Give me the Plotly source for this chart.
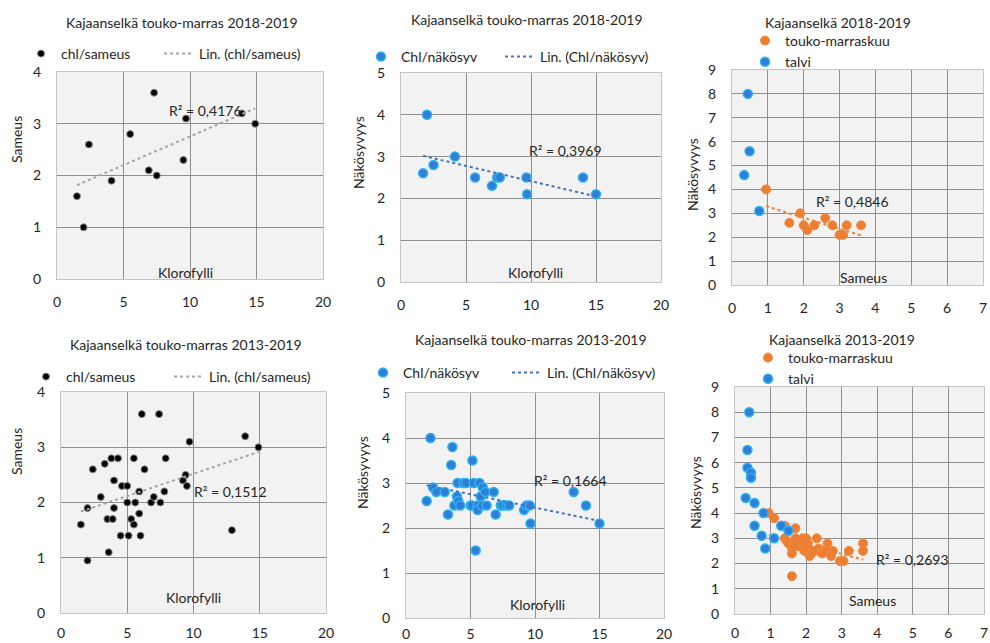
import numpy as np
import plotly.graph_objects as go

W, H = 990, 643
def X(px): return px / W
def Y(py): return 1 - py / H

FONT = "Lato"
TXT = "#262626"

# ---------------- data ----------------
# Panel 1: 2018-2019 chl / sameus
chl_a = [1.5, 2.0, 2.4, 4.1, 5.5, 6.9, 7.3, 7.5, 9.5, 9.7, 13.9, 14.9]
sam_a = [1.6, 1.0, 2.6, 1.9, 2.8, 2.1, 3.6, 2.0, 2.3, 3.1, 3.2, 3.0]
# Panel 2: 2018-2019 chl / näkösyvyys
chl_b = [1.7, 2.0, 2.5, 4.15, 5.7, 7.0, 7.4, 7.6, 9.65, 9.7, 14.0, 15.0]
nak_b = [2.6, 4.0, 2.8, 3.0, 2.5, 2.3, 2.5, 2.5, 2.5, 2.1, 2.5, 2.1]
# Panel 3: 2018-2019 sameus / näkösyvyys
sam_c_kesa = [0.95, 1.6, 1.9, 2.0, 2.1, 2.3, 2.6, 2.8, 3.0, 3.1, 3.2, 3.6]
nak_c_kesa = [4.0, 2.6, 3.0, 2.5, 2.3, 2.5, 2.8, 2.5, 2.1, 2.1, 2.5, 2.5]
sam_c_talvi = [0.44, 0.49, 0.34, 0.76]
nak_c_talvi = [8.0, 5.6, 4.6, 3.1]
# Panel 4: 2013-2019 chl / sameus
chl_d = [1.5, 2.0, 2.0, 2.4, 3.0, 3.3, 3.5, 3.6, 3.8, 3.9, 4.0, 4.0, 4.3, 4.5,
         4.6, 5.0, 5.0, 5.1, 5.3, 5.5, 5.5, 5.6, 5.9, 5.9, 6.0, 6.1, 6.3, 6.8,
         7.0, 7.4, 7.5, 7.8, 7.9, 9.2, 9.4, 9.5, 9.7, 12.9, 13.9, 14.9]
sam_d = [1.6, 1.9, 0.95, 2.6, 2.1, 2.7, 1.7, 1.1, 2.8, 1.7, 2.4, 1.9, 2.8, 1.4,
         2.3, 2.3, 2.0, 1.4, 1.7, 1.6, 2.8, 2.0, 2.2, 1.8, 1.4, 3.6, 2.6, 2.0,
         2.1, 3.6, 2.0, 2.2, 2.8, 2.4, 2.5, 2.3, 3.1, 1.5, 3.2, 3.0]
# Panel 5: 2013-2019 chl / näkösyvyys
chl_e = [1.6, 1.9, 2.1, 2.35, 3.0, 3.25, 3.5, 3.6, 3.75, 3.95, 4.0, 4.05, 4.2,
         4.45, 4.65, 5.0, 5.1, 5.15, 5.25, 5.4, 5.55, 5.55, 5.7, 5.8, 5.9, 5.95,
         6.15, 6.25, 6.8, 6.95, 7.35, 7.5, 7.8, 8.0, 9.15, 9.35, 9.6, 9.65,
         13.0, 13.95, 15.0]
nak_e = [2.6, 4.0, 2.9, 2.8, 2.8, 2.3, 3.4, 3.8, 2.5, 2.7, 3.0, 2.6, 2.5,
         3.0, 3.0, 2.5, 2.5, 3.5, 3.0, 1.5, 2.5, 2.4, 3.0, 2.7, 2.5, 2.9,
         2.8, 2.5, 2.8, 2.3, 2.5, 2.5, 2.5, 2.5, 2.4, 2.5, 2.5, 2.1,
         2.8, 2.5, 2.1]
# Panel 6: 2013-2019 sameus / näkösyvyys
sam_f_kesa = [0.95, 1.1, 1.4, 1.4, 1.45, 1.7, 1.7, 1.6, 1.6, 1.6, 1.75, 1.9,
              2.0, 1.95, 2.05, 2.1, 2.25, 2.3, 2.4, 2.35, 2.5, 2.6, 2.7, 2.75,
              2.95, 3.05, 3.2, 3.6, 3.6, 1.5, 1.8, 2.0, 2.15, 2.45, 2.55, 1.65,
              2.2, 1.85]
nak_f_kesa = [4.0, 3.8, 3.5, 3.0, 2.9, 3.4, 3.0, 2.4, 1.5, 2.6, 2.7, 3.0,
              3.0, 2.5, 2.8, 2.3, 2.5, 3.0, 2.5, 2.6, 2.5, 2.8, 2.3, 2.5,
              2.1, 2.1, 2.5, 2.8, 2.5, 2.8, 2.7, 2.6, 2.4, 2.4, 2.5, 2.7,
              2.5, 2.9]
sam_f_talvi = [0.4, 0.35, 0.35, 0.45, 0.45, 0.3, 0.55, 0.8, 0.55, 0.75, 0.85,
               1.1, 1.3, 1.5]
nak_f_talvi = [8.0, 6.5, 5.8, 5.6, 5.4, 4.6, 4.4, 4.0, 3.5, 3.1, 2.6, 3.0,
               3.5, 3.3]

titles = ["Kajaanselkä touko-marras 2018-2019", "Kajaanselkä touko-marras 2018-2019",
          "Kajaanselkä 2018-2019", "Kajaanselkä touko-marras 2013-2019",
          "Kajaanselkä touko-marras 2013-2019", "Kajaanselkä 2013-2019"]
r2_labels = ["R² = 0,4176", "R² = 0,3969", "R² = 0,4846",
             "R² = 0,1512", "R² = 0,1664", "R² = 0,2693"]
x_titles = ["Klorofylli", "Klorofylli", "Sameus", "Klorofylli", "Klorofylli", "Sameus"]
y_titles = ["Sameus", "Näkösyvyys", "Näkösyvyys", "Sameus", "Näkösyvyys", "Näkösyvyys"]

# ---------------- layout geometry (pixels) ----------------
panels = [
    dict(box=(57, 323, 72, 279), xr=[0, 20], xd=5, yr=[0, 4], so=10),
    dict(box=(401, 661, 73, 282), xr=[0, 20], xd=5, yr=[0, 5], so=10),
    dict(box=(732, 983, 70, 285), xr=[0, 7], xd=1, yr=[0, 9], so=10),
    dict(box=(61, 326, 392, 613), xr=[0, 20], xd=5, yr=[0, 4], so=7),
    dict(box=(406, 664, 393, 618), xr=[0, 20], xd=5, yr=[0, 5], so=3),
    dict(box=(735, 984, 387, 614), xr=[0, 7], xd=1, yr=[0, 9], so=6),
]
title_pos = [(182, 22), (527, 20), (838, 22), (186, 344), (531, 340), (842, 340)]
r2_pos = [(205, 110), (565, 150), (852, 202), (230, 491), (570, 480), (912, 559)]
xt_pos = [(185, 272), (535, 272), (863, 277), (193, 597), (537, 604), (872, 600)]
yt_pos = [(17, 140), (358, 153), (692, 175), (17, 452), (362, 473), (695, 493)]

fig = go.Figure()

BLACK = dict(color="black", size=7, line=dict(color="#8a8a8a", width=1))
BLUE = dict(color="#2f7fd8", size=9, line=dict(color="#2bb3f0", width=1.5))
ORANGE = dict(color="#ed7d31", size=9, line=dict(color="#f08a40", width=1))

def ax(i):
    return ("x" if i == 1 else f"x{i}"), ("y" if i == 1 else f"y{i}")

def leg(i):
    return "legend" if i == 1 else f"legend{i}"

def trend(xs, ys):
    k, b = np.polyfit(xs, ys, 1)
    x0, x1 = min(xs), max(xs)
    return [x0, x1], [k * x0 + b, k * x1 + b]

def add_pair(i, xs, ys, mk, name, tcolor, tname, tleg):
    xa, ya = ax(i)
    fig.add_trace(go.Scatter(x=xs, y=ys, mode="markers", marker=mk, name=name,
                             xaxis=xa, yaxis=ya, legend=leg(i)))
    tx, ty = trend(xs, ys)
    fig.add_trace(go.Scatter(x=tx, y=ty, mode="lines", name=tname,
                             line=dict(color=tcolor, dash="dot", width=2),
                             xaxis=xa, yaxis=ya, legend=tleg))

add_pair(1, chl_a, sam_a, BLACK, "chl/sameus", "#a5a5a5", "Lin. (chl/sameus)", "legend7")
add_pair(2, chl_b, nak_b, BLUE, "Chl/näkösyv", "#4472c4", "Lin. (Chl/näkösyv)", "legend8")
add_pair(4, chl_d, sam_d, BLACK, "chl/sameus", "#a5a5a5", "Lin. (chl/sameus)", "legend9")
add_pair(5, chl_e, nak_e, BLUE, "Chl/näkösyv", "#4472c4", "Lin. (Chl/näkösyv)", "legend10")

for i, (sk, nk, st, nt) in [(3, (sam_c_kesa, nak_c_kesa, sam_c_talvi, nak_c_talvi)),
                            (6, (sam_f_kesa, nak_f_kesa, sam_f_talvi, nak_f_talvi))]:
    xa, ya = ax(i)
    tx, ty = trend(sk, nk)
    fig.add_trace(go.Scatter(x=tx, y=ty, mode="lines", showlegend=False,
                             line=dict(color="#ed7d31", dash="dot", width=2),
                             xaxis=xa, yaxis=ya))
    fig.add_trace(go.Scatter(x=sk, y=nk, mode="markers", marker=ORANGE,
                             name="touko-marraskuu", xaxis=xa, yaxis=ya, legend=leg(i)))
    fig.add_trace(go.Scatter(x=st, y=nt, mode="markers", marker=BLUE,
                             name="talvi", xaxis=xa, yaxis=ya, legend=leg(i)))

layout = dict(
    width=W, height=H, margin=dict(l=0, r=0, t=0, b=0, autoexpand=False),
    paper_bgcolor="white", plot_bgcolor="#f2f2f2",
    font=dict(family=FONT, size=14, color=TXT),
    annotations=[],
)

for n, p in enumerate(panels):
    i = n + 1
    l, r, t, b = p["box"]
    common = dict(showgrid=True, gridcolor="#8f8f8f", gridwidth=1,
                  showline=True, linecolor="#c4c4c4", linewidth=1, mirror=True,
                  zeroline=False, ticks="", fixedrange=True, automargin=False,
                  ticklabeloverflow="allow",
                  tickfont=dict(family=FONT, size=14, color=TXT))
    layout["xaxis" if i == 1 else f"xaxis{i}"] = dict(
        common, domain=[X(l), X(r)], range=p["xr"], dtick=p["xd"], tick0=0,
        anchor=ax(i)[1], ticklabelstandoff=p["so"])
    layout["yaxis" if i == 1 else f"yaxis{i}"] = dict(
        common, domain=[Y(b), Y(t)], range=p["yr"], dtick=1, tick0=0,
        anchor=ax(i)[0], ticklabelstandoff=12)
    def ann(text, pos, size, angle=0):
        return dict(text=text, x=X(pos[0]), y=Y(pos[1]), xref="paper", yref="paper",
                    xanchor="center", yanchor="middle", showarrow=False,
                    textangle=angle, font=dict(size=size, color=TXT))
    layout["annotations"] += [
        ann(titles[n], title_pos[n], 14),
        ann(r2_labels[n], r2_pos[n], 14),
        ann(x_titles[n], xt_pos[n], 14),
        ann(y_titles[n], yt_pos[n], 14, -90),
    ]

def hleg(x, y):
    return dict(x=X(x), y=Y(y), xref="container", yref="container",
                xanchor="left", yanchor="middle", orientation="h",
                bgcolor="rgba(0,0,0,0)", borderwidth=0,
                font=dict(family=FONT, size=14, color=TXT))

def vleg(x, y):
    return dict(x=X(x), y=Y(y), xref="container", yref="container",
                xanchor="left", yanchor="top", orientation="v",
                bgcolor="rgba(0,0,0,0)", borderwidth=0, tracegroupgap=0,
                font=dict(family=FONT, size=14, color=TXT))

layout["legend"] = hleg(21, 54)
layout["legend7"] = hleg(159, 54)
layout["legend2"] = hleg(361, 57)
layout["legend8"] = hleg(500, 57)
layout["legend3"] = vleg(745, 25)
layout["legend4"] = hleg(26, 377)
layout["legend9"] = hleg(169, 377)
layout["legend5"] = hleg(363, 373)
layout["legend10"] = hleg(507, 373)
layout["legend6"] = vleg(748, 342)

fig.update_layout(**layout)
fig.write_html("out.html")
